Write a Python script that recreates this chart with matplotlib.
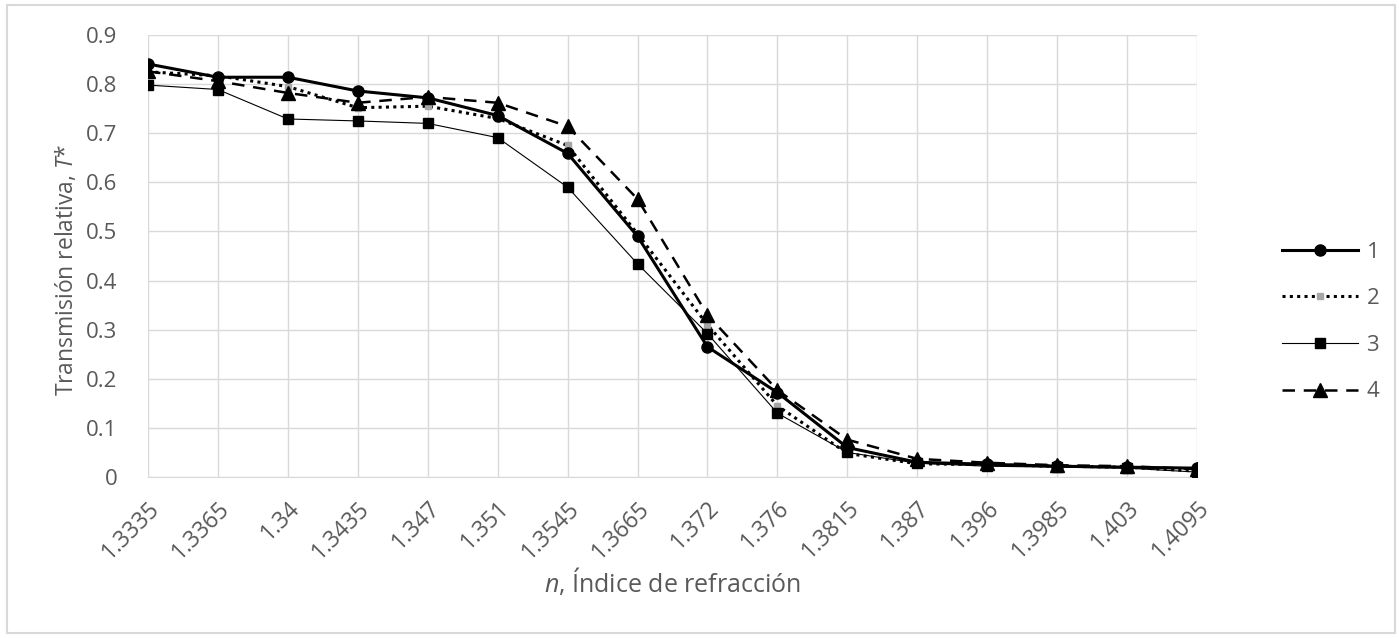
import matplotlib.pyplot as plt
from matplotlib.patches import Rectangle

# índices de refracción (categorías del eje x)
n_labels = ["1.3335", "1.3365", "1.34", "1.3435", "1.347", "1.351", "1.3545", "1.3665",
            "1.372", "1.376", "1.3815", "1.387", "1.396", "1.3985", "1.403", "1.4095"]

# transmisión relativa T* para cada serie
t1 = [0.841, 0.814, 0.814, 0.786, 0.772, 0.736, 0.659, 0.490,
      0.265, 0.172, 0.060, 0.030, 0.026, 0.022, 0.020, 0.018]
t2 = [0.825, 0.817, 0.795, 0.752, 0.755, 0.730, 0.675, 0.495,
      0.310, 0.145, 0.048, 0.027, 0.025, 0.022, 0.020, 0.012]
t3 = [0.798, 0.789, 0.729, 0.725, 0.720, 0.691, 0.590, 0.434,
      0.292, 0.130, 0.050, 0.028, 0.022, 0.020, 0.018, 0.010]
t4 = [0.826, 0.806, 0.782, 0.762, 0.774, 0.762, 0.714, 0.566,
      0.330, 0.177, 0.076, 0.037, 0.029, 0.024, 0.022, 0.016]

series_names = ["1", "2", "3", "4"]

plt.rcParams["font.family"] = ["Open Sans", "DejaVu Sans"]
plt.rcParams["mathtext.fontset"] = "custom"
plt.rcParams["mathtext.it"] = "Open Sans:italic"
gray_txt = "#595959"

W, H = 1399, 638
fig = plt.figure(figsize=(W / 100, H / 100), dpi=100)
ax = fig.add_axes([148 / W, 1 - 477 / H, (1197 - 148) / W, (477 - 35) / H])

x = list(range(len(n_labels)))
ax.plot(x, t1, color="black", lw=2.2, marker="o", ms=8, label=series_names[0], zorder=4)
ax.plot(x, t2, color="black", lw=2.2, ls=(0, (1, 1.4)), marker="s", ms=5,
        mfc="#a6a6a6", mec="#a6a6a6", label=series_names[1], zorder=3)
ax.plot(x, t3, color="black", lw=0.8, marker="s", ms=7.5, label=series_names[2], zorder=3)
ax.plot(x, t4, color="black", lw=1.8, ls=(0, (5, 3.5)), marker="^", ms=10,
        label=series_names[3], zorder=5)

ax.set_xlim(0, len(n_labels) - 1)
ax.set_ylim(0, 0.9)
ax.set_yticks([i / 10 for i in range(10)])
ax.set_yticklabels(["0"] + [f"{i / 10:.1f}" for i in range(1, 10)])
ax.set_xticks(x)
ax.set_xticklabels(n_labels, rotation=45, ha="right", va="top", rotation_mode="anchor")

ax.grid(True, color="#d9d9d9", lw=1)
ax.set_axisbelow(True)
for side in ["top", "right", "left"]:
    ax.spines[side].set_visible(False)
ax.spines["bottom"].set_color("#d9d9d9")
ax.tick_params(length=0, colors=gray_txt)
ax.tick_params(axis="y", pad=22, labelsize=16)
ax.tick_params(axis="x", pad=14, labelsize=16.5)

ax.set_ylabel("Transmisión relativa, $\\it{T}$*", color=gray_txt, fontsize=16.5)
ax.yaxis.set_label_coords(-(148 - 66) / (1197 - 148), 0.47)
ax.set_xlabel("$\\it{n}$, Índice de refracción", color=gray_txt, fontsize=18)
ax.xaxis.set_label_coords(0.5, -(582 - 477) / (477 - 35))
ax.xaxis.label.set_va("center")
ax.yaxis.label.set_va("center")

leg = ax.legend(loc="center left", bbox_to_anchor=(1262 / W, 1 - 322 / H),
                bbox_transform=fig.transFigure, frameon=False, fontsize=16,
                handlelength=3.4, labelspacing=1.15, labelcolor=gray_txt, handletextpad=0.4)

# borde exterior del gráfico
fig.patches.append(Rectangle((7 / W, 5 / H), 1388 / W, 628 / H, transform=fig.transFigure,
                             fill=False, ec="#d9d9d9", lw=1.5))

fig.savefig("out.png", dpi=100)
